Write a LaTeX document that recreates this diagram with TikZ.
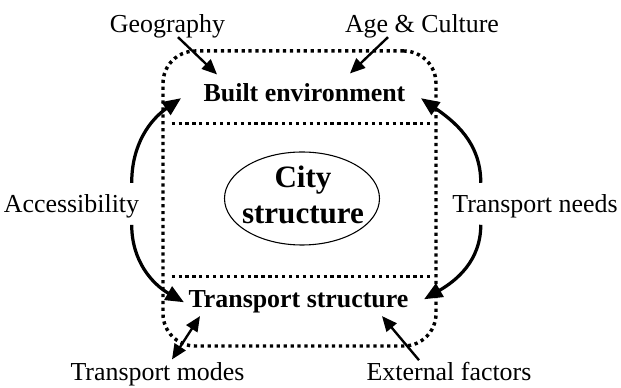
\documentclass[tikz,border=0pt]{standalone}
\usepackage{fontspec}
\setmainfont{Liberation Serif}
\usetikzlibrary{arrows.meta,shapes.geometric}
\tikzset{
	factor/.style={inner sep=1pt, anchor=base},
	layer/.style={inner sep=1pt, anchor=base, font=\fontsize{12}{14.4}\selectfont\bfseries},
	dotframe/.style={line width=1.6pt, dash pattern=on 1.5pt off 1.7pt},
	feed/.style={line width=1.1pt, -{Triangle[length=7pt,width=6pt]}},
	swing/.style={line width=1.5pt, -{Triangle[length=8.5pt,width=7pt]}}
}

\begin{document}
\begin{tikzpicture}[x=0.4633pt, y=0.4633pt, font=\fontsize{12}{14.4}\selectfont]
    \useasboundingbox (0,0) rectangle (621,388);
    \def\rx{77.5} % x radius of the city ellipse
    \def\ry{46.5} % y radius of the city ellipse

    % Outer frame and the city core
    \node[dotframe, draw, rounded corners=15pt, minimum width=126.5pt, minimum height=136.7pt] (frame) at (299.5,189.5) {};
    \node[minimum width=119.5pt, minimum height=70.4pt] (core) at (301,188) {};
    \draw[dotframe] (core.north west) -- (core.north east);
    \draw[dotframe] (core.south west) -- (core.south east);

    % City structure in the middle
    \node[align=center, font=\fontsize{14.4}{17}\selectfont\bfseries] (city) at (303,193) {City\\structure};
    \draw[line width=0.5pt] ([shift={(-1,-3.5)}]city.center) ellipse [x radius=\rx, y radius=\ry];

    % The two layers
    \node[layer] (built) at (304.5,286) {Built environment};
    \node[layer] (trans) at (298.5,80) {Transport structure};

    % Outside factors
    \node[factor] (geo) at (167.5,355) {Geography};
    \node[factor] (age) at (422,355) {Age \& Culture};
    \node[factor] (access) at (71.5,175) {Accessibility};
    \node[factor] (needs) at (535,175) {Transport needs};
    \node[factor] (modes) at (157.5,7) {Transport modes};
    \node[factor] (ext) at (449,7) {External factors};

    % Straight arrows
    \draw[feed] ([shift={(10.5,4)}]geo.south) -- ([shift={(-87.5,7)}]built.north);
    \draw[feed] ([shift={(-34,4)}]age.south) -- ([shift={(45.5,8)}]built.north);
    \draw[feed, {Triangle[length=7pt,width=6pt]}-{Triangle[length=7pt,width=6pt]}] ([shift={(14.5,1)}]modes.north) -- ([shift={(-98.5,0)}]trans.south);
    \draw[feed] ([shift={(-30,0)}]ext.north) -- ([shift={(83.5,0)}]trans.south);

    % Curved arrows
    \draw[swing] ([shift={(-10,24)}]access.east) to[out=90, in=215] ([shift={(-20,-5)}]built.west);
    \draw[swing] ([shift={(-10,-18)}]access.east) to[out=-90, in=150] ([shift={(-2,0)}]trans.west);
    \draw[swing] ([shift={(31,24)}]needs.west) to[out=90, in=-35] ([shift={(13,-5)}]built.east);
    \draw[swing] ([shift={(31,-18)}]needs.west) to[out=-90, in=30] ([shift={(13,3)}]trans.east);
\end{tikzpicture}
\end{document}
